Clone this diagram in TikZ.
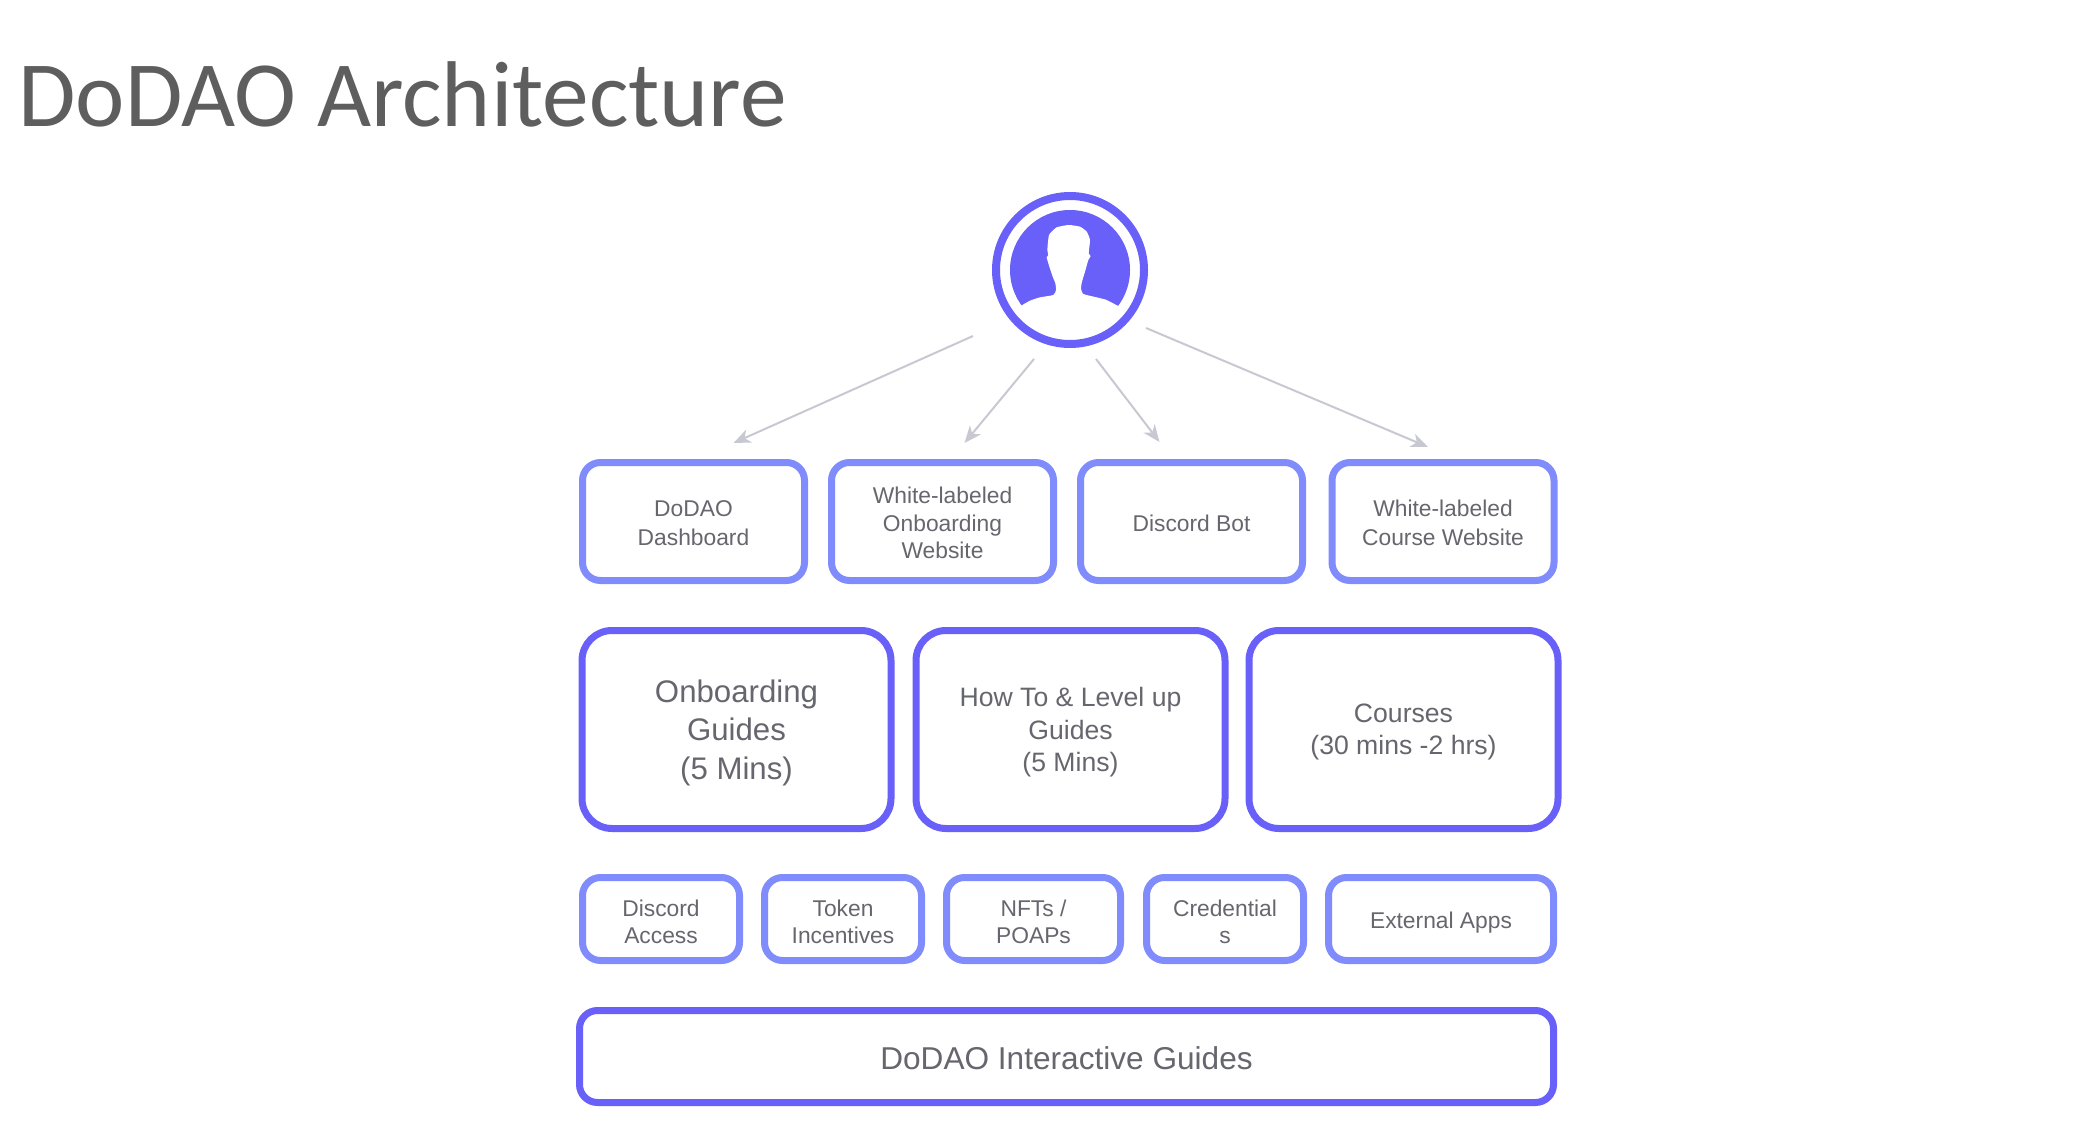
\documentclass[tikz,border=0pt]{standalone}
\usepackage{fontspec}
\setmainfont{Liberation Sans}
\newfontfamily\titlefont{Carlito}
\usetikzlibrary{arrows.meta}
\definecolor{boxdark}{HTML}{6860F8}
\definecolor{boxlight}{HTML}{808CFC}
\definecolor{flowgray}{HTML}{C8C8D2}
\definecolor{textgray}{HTML}{66666E}
\definecolor{titlegray}{HTML}{5E5E5E}
\tikzset{
	box/.style={draw,fill=white,text=textgray,align=center,inner sep=0pt,line width=3.5pt,text depth=0pt},
	small/.style={box,draw=boxlight,rounded corners=9pt,font=\fontsize{11.4}{13.7}\selectfont},
	wide/.style={small,font=\fontsize{11.4}{14.5}\selectfont},
	reward/.style={small,minimum height=41.5pt,text height=24.7pt},
	big/.style={box,draw=boxdark,rounded corners=15pt,minimum height=99pt,minimum width=154.5pt,font=\fontsize{13.3}{16.2}\selectfont},
	flow/.style={draw=flowgray,line width=1pt,-{Stealth[length=8.5pt,width=7pt,inset=2.5pt]}},
}

\begin{document}
\begin{tikzpicture}[x=0.5pt,y=-0.5pt]
	% 1 unit = 1 pixel of the page
	\useasboundingbox (0,0) rectangle (2073,1139);

	\node[anchor=base west,inner sep=0pt,text=titlegray,font=\titlefont\fontsize{46.7}{50}\selectfont] (title) at (18,127) {DoDAO Architecture};

	% user
	\node[circle,draw=boxdark,line width=4pt,minimum size=74pt,inner sep=0pt] (user) at (1070,270) {};
	\begin{scope}[shift={(950,170)},x=0.16667pt,y=-0.16667pt]
		\fill[boxdark] (360,300) circle (180);
		\clip (360,300) circle (192);
		\fill[white] plot[smooth,tension=.3] coordinates {(205,412) (240,392) (270,382) (310,375) (318,360) (316,340) (308,320) (298,290) (290,262) (295,255) (292,240) (297,195) (320,172) (356,165) (390,170) (410,185) (420,210) (416,250) (422,258) (415,270) (405,305) (396,335) (393,355) (400,372) (440,382) (470,390) (512,412)} -- (512,560) -- (205,560) -- cycle;
	\end{scope}

	% top row
	\node[wide,minimum width=111pt,minimum height=59pt,text height=24.1pt] (dashboard) at (693.5,521.5) {DoDAO\\Dashboard};
	\node[small,minimum width=111pt,minimum height=59pt,text height=37pt] (onboardsite) at (942.5,521.5) {White-labeled\\Onboarding\\Website};
	\node[small,minimum width=111pt,minimum height=59pt,text height=9.6pt] (bot) at (1191.5,521.5) {Discord Bot};
	\node[wide,minimum width=111pt,minimum height=59pt,text height=24.1pt] (coursesite) at (1443,521.5) {White-labeled\\Course Website};

	% guides
	\node[big,font=\fontsize{15.6}{19.2}\selectfont] (onboarding) at (736.5,729.5) {Onboarding\\Guides\\(5 Mins)};
	\node[big] (howto) at (1070.5,729.5) {How To \& Level up\\Guides\\(5 Mins)};
	\node[big] (courses) at (1403.5,729.5) {Courses\\(30 mins -2 hrs)};

	% rewards
	\node[reward,minimum width=78.5pt] (access) at (661,919) {Discord\\Access};
	\node[reward,minimum width=78.5pt] (incentives) at (843,919) {Token\\Incentives};
	\node[reward,minimum width=87pt] (nfts) at (1033.5,919) {NFTs /\\POAPs};
	\node[reward,minimum width=78.5pt] (credentials) at (1225,919) {Credential\\s};
	\node[reward,minimum width=112.5pt,text height=9.6pt] (apps) at (1441,919) {External Apps};

	\node[box,draw=boxdark,rounded corners=9pt,minimum width=487pt,minimum height=46pt,text height=12.9pt,font=\fontsize{15.8}{19}\selectfont] (interactive) at (1066.5,1056.5) {DoDAO Interactive Guides};

	% free ends of the arrows
	\coordinate (from1) at ([shift={(-97,66)}]user.center);
	\coordinate (from2) at ([shift={(-36,89)}]user.center);
	\coordinate (from3) at ([shift={(26,89)}]user.center);
	\coordinate (from4) at ([shift={(76,58)}]user.center);
	\coordinate (to1) at ([shift={(40,-16)}]dashboard.north);
	\coordinate (to2) at ([shift={(22,-16)}]onboardsite.north);
	\coordinate (to3) at ([shift={(-32,-17)}]bot.north);
	\coordinate (to4) at ([shift={(-15,-12)}]coursesite.north);

	\draw[flow] (from1) -- (to1);
	\draw[flow] (from2) -- (to2);
	\draw[flow] (from3) -- (to3);
	\draw[flow] (from4) -- (to4);
\end{tikzpicture}
\end{document}
